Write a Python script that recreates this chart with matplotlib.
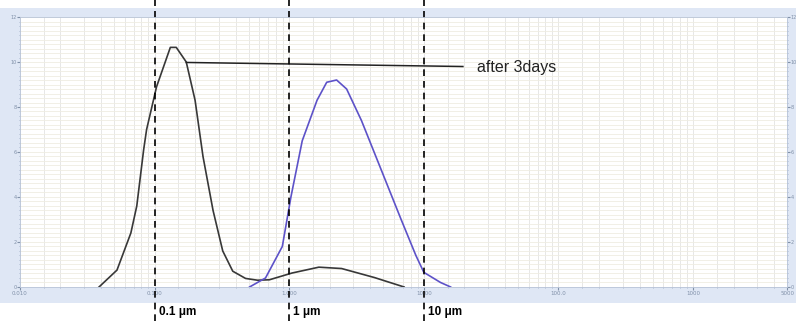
import matplotlib.pyplot as plt
from matplotlib.patches import Rectangle
from matplotlib.ticker import FixedLocator, NullFormatter

# particle size (um) vs volume (%)
black_size = [0.0387, 0.0526, 0.0667, 0.0738, 0.083, 0.0873, 0.1035, 0.131, 0.145,
              0.172, 0.2, 0.229, 0.272, 0.321, 0.381, 0.474, 0.582, 0.713, 1.05,
              1.66, 2.45, 4.29, 7.13]
black_vol = [0.0, 0.75, 2.4, 3.6, 6.1, 7.0, 8.9, 10.65, 10.65,
             10.0, 8.3, 5.8, 3.4, 1.6, 0.7, 0.38, 0.3, 0.32, 0.62,
             0.88, 0.82, 0.42, 0.0]

blue_size = [0.508, 0.667, 0.889, 1.03, 1.25, 1.61, 1.9, 2.25, 2.67, 3.44,
             4.83, 6.78, 8.73, 10.0, 13.3, 15.8]
blue_vol = [0.0, 0.4, 1.8, 4.0, 6.5, 8.3, 9.1, 9.2, 8.8, 7.4,
            5.2, 3.0, 1.4, 0.65, 0.2, 0.0]

marker_sizes = [0.1, 1, 10]
marker_labels = ["0.1 μm", "1 μm", "10 μm"]

x_ticks = [0.01, 0.1, 1, 10, 100, 1000, 5000]
x_tick_labels = ["0.010", "0.100", "1.000", "10.00", "100.0", "1000", "5000"]
y_ticks = [0, 2, 4, 6, 8, 10, 12]

band = "#dfe7f5"

fig = plt.figure(figsize=(7.96, 3.21), dpi=100)
fig.patches.append(Rectangle((0, 0.056), 1, 0.919, transform=fig.transFigure,
                             facecolor=band, edgecolor="none", zorder=-10))
ax = fig.add_axes([0.025, 0.106, 0.964, 0.841])
ax.set_facecolor("white")

ax.set_xscale("log")
ax.set_xlim(0.0108, 4800)
ax.set_ylim(0, 12)

# dense light grid
minor_x = [m * 10.0 ** e for e in range(-2, 4) for m in (1, 1.5, 2, 3, 4, 5, 6, 7, 8, 9)]
ax.xaxis.set_minor_locator(FixedLocator(minor_x))
ax.xaxis.set_minor_formatter(NullFormatter())
ax.yaxis.set_minor_locator(FixedLocator([i * 0.2 for i in range(61)]))
ax.grid(True, axis="x", which="both", color="#e3e3e3", linewidth=0.6)
ax.grid(True, axis="y", which="both", color="#efede2", linewidth=0.6)
ax.set_axisbelow(True)

ax.set_xticks(x_ticks)
ax.set_xticklabels(x_tick_labels)
ax.set_yticks(y_ticks)
ax.tick_params(axis="both", which="major", labelsize=4, colors="#8090a8",
               length=2, pad=1)
ax.tick_params(axis="both", which="minor", length=1, colors="#a0b0c8")
ax.tick_params(axis="y", which="both", right=True, labelright=True)
ax.tick_params(axis="y", which="major", labelsize=3.5)
ax.yaxis.set_tick_params(which="major", pad=0.5)
for s in ax.spines.values():
    s.set_color("#b8c4d8")
    s.set_linewidth(0.6)

ax.plot(black_size, black_vol, color="#383838", linewidth=1.2)
ax.plot(blue_size, blue_vol, color="#5d52c8", linewidth=1.2)

# annotation line to the label
ax.plot([0.172, 19.5], [9.98, 9.8], color="#222222", linewidth=1.1)
ax.text(25, 9.75, "after 3days", fontsize=11.5, family="Liberation Sans",
        va="center", ha="left", color="#222222")

for xs, lab in zip(marker_sizes, marker_labels):
    ax.axvline(xs, ymin=-0.126, ymax=1.065, color="black", linestyle=(0, (4, 3)),
               linewidth=1.2, clip_on=False)
    ax.text(xs * 1.07, -0.093, lab, transform=ax.get_xaxis_transform(),
            fontsize=8.5, fontweight="bold", family="Liberation Sans",
            va="center", ha="left")

fig.savefig("out.png", dpi=100)
